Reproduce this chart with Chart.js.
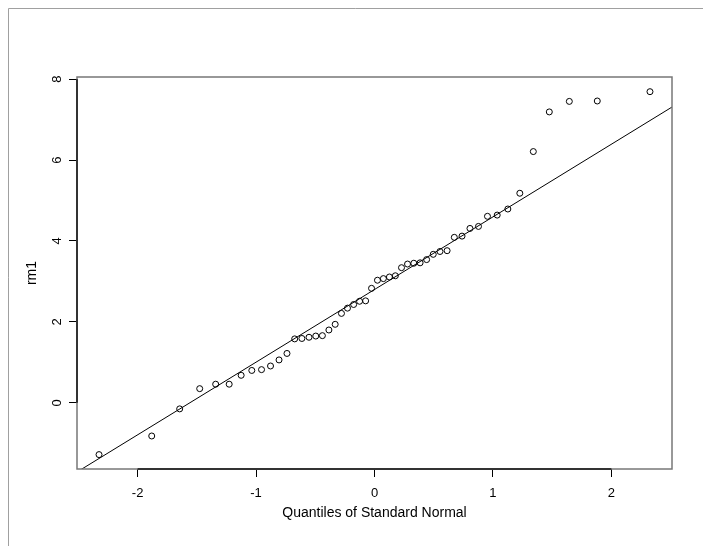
<!DOCTYPE html>
<html>
<head>
<meta charset="utf-8">
<script src="https://cdn.jsdelivr.net/npm/chart.js@4.4.1/dist/chart.umd.min.js"></script>
<style>
  html, body { margin: 0; padding: 0; background: #fff; }
  #wrap { width: 703px; height: 546px; position: relative; }
</style>
</head>
<body>
<div id="wrap"><canvas id="qq"></canvas></div>
<script>
// Theoretical quantiles (x) and sorted sample values rm1 (y)
const normalQuantiles = [
  -2.326, -1.881, -1.645, -1.476, -1.341, -1.227, -1.126, -1.036, -0.954, -0.878,
  -0.806, -0.739, -0.674, -0.613, -0.553, -0.496, -0.440, -0.385, -0.332, -0.279,
  -0.228, -0.176, -0.126, -0.075, -0.025, 0.025, 0.075, 0.126, 0.176, 0.228,
  0.279, 0.332, 0.385, 0.440, 0.496, 0.553, 0.613, 0.674, 0.739, 0.806,
  0.878, 0.954, 1.036, 1.126, 1.227, 1.341, 1.476, 1.645, 1.881, 2.326
];
const rm1 = [
  -1.28, -0.82, -0.15, 0.35, 0.46, 0.46, 0.68, 0.80, 0.82, 0.91,
  1.06, 1.22, 1.58, 1.59, 1.62, 1.65, 1.66, 1.80, 1.94, 2.21,
  2.34, 2.43, 2.51, 2.52, 2.83, 3.03, 3.07, 3.11, 3.14, 3.34,
  3.43, 3.45, 3.46, 3.54, 3.67, 3.74, 3.76, 4.09, 4.12, 4.31,
  4.36, 4.61, 4.64, 4.79, 5.18, 6.21, 7.19, 7.45, 7.46, 7.69
];
// reference line (qqline) end points
const lineX = [-2.512, 2.512];
const lineY = [-1.71, 7.31];

const xTicks = [-2, -1, 0, 1, 2];
const yTicks = [0, 2, 4, 6, 8];
const xTitle = 'Quantiles of Standard Normal';
const yTitle = 'rm1';

const FONT = "'Liberation Sans', Arial, Helvetica, sans-serif";

// box, axis lines, rotated labels (R style)
const rStylePlugin = {
  id: 'rStyle',
  beforeDraw(chart) {
    const ctx = chart.ctx;
    ctx.save();
    ctx.fillStyle = '#fff';
    ctx.fillRect(0, 0, chart.width, chart.height);
    ctx.strokeStyle = '#a0a0a0';
    ctx.lineWidth = 1;
    ctx.beginPath();
    ctx.moveTo(8.5, chart.height);
    ctx.lineTo(8.5, 8.5);
    ctx.lineTo(chart.width, 8.5);
    ctx.stroke();
    ctx.restore();
  },
  afterDraw(chart) {
    const ctx = chart.ctx;
    const a = chart.chartArea;
    const xs = chart.scales.x, ys = chart.scales.y;
    ctx.save();
    // plot box
    ctx.strokeStyle = '#777';
    ctx.lineWidth = 1.5;
    ctx.strokeRect(a.left, a.top, a.right - a.left, a.bottom - a.top);
    // axis lines between first and last tick
    ctx.strokeStyle = '#333';
    ctx.lineWidth = 2;
    ctx.beginPath();
    ctx.moveTo(xs.getPixelForValue(xTicks[0]), a.bottom);
    ctx.lineTo(xs.getPixelForValue(xTicks[xTicks.length - 1]), a.bottom);
    ctx.moveTo(a.left, ys.getPixelForValue(yTicks[0]));
    ctx.lineTo(a.left, ys.getPixelForValue(yTicks[yTicks.length - 1]));
    ctx.stroke();

    ctx.fillStyle = '#000';
    ctx.textAlign = 'center';
    ctx.textBaseline = 'middle';
    ctx.font = '13px ' + FONT;
    xTicks.forEach(v => ctx.fillText(String(v), xs.getPixelForValue(v), a.bottom + 24));
    yTicks.forEach(v => {
      ctx.save();
      ctx.translate(a.left - 20, ys.getPixelForValue(v));
      ctx.rotate(-Math.PI / 2);
      ctx.fillText(String(v), 0, 0);
      ctx.restore();
    });
    ctx.font = '14px ' + FONT;
    ctx.fillText(xTitle, (a.left + a.right) / 2, a.bottom + 44);
    ctx.save();
    ctx.translate(a.left - 45, (a.top + a.bottom) / 2);
    ctx.rotate(-Math.PI / 2);
    ctx.fillText(yTitle, 0, 0);
    ctx.restore();
    ctx.restore();
  }
};

new Chart(document.getElementById('qq'), {
  type: 'scatter',
  data: {
    datasets: [
      {
        data: normalQuantiles.map((q, i) => ({ x: q, y: rm1[i] })),
        pointStyle: 'circle',
        pointRadius: 3,
        pointBorderWidth: 1,
        pointBorderColor: '#000',
        pointBackgroundColor: 'rgba(0,0,0,0)'
      },
      {
        data: lineX.map((x, i) => ({ x: x, y: lineY[i] })),
        showLine: true,
        borderColor: '#000',
        borderWidth: 1,
        pointRadius: 0
      }
    ]
  },
  options: {
    responsive: true,
    maintainAspectRatio: false,
    animation: false,
    events: [],
    layout: { padding: { left: 69, top: 77, right: 31, bottom: 69 } },
    plugins: { legend: { display: false }, tooltip: { enabled: false } },
    scales: {
      x: {
        type: 'linear',
        min: -2.512,
        max: 2.512,
        afterBuildTicks: s => { s.ticks = xTicks.map(v => ({ value: v })); },
        ticks: { display: false },
        border: { display: false },
        grid: { drawOnChartArea: false, drawTicks: true, tickLength: 8, color: '#000', lineWidth: 1 }
      },
      y: {
        type: 'linear',
        min: -1.636,
        max: 8.053,
        afterBuildTicks: s => { s.ticks = yTicks.map(v => ({ value: v })); },
        ticks: { display: false },
        border: { display: false },
        grid: { drawOnChartArea: false, drawTicks: true, tickLength: 8, color: '#000', lineWidth: 1 }
      }
    }
  },
  plugins: [rStylePlugin]
});
</script>
</body>
</html>
